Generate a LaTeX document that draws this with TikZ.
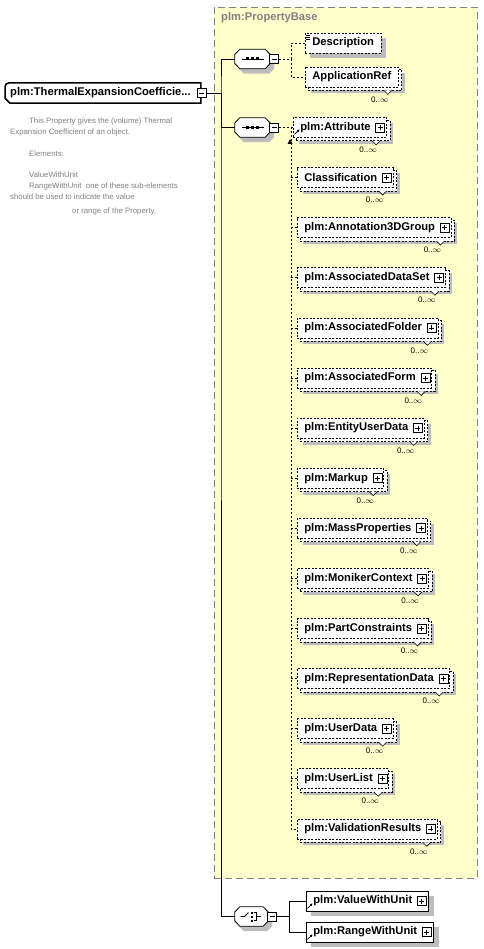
\documentclass[tikz,border=0pt]{standalone}
\usepackage{fontspec}
\setmainfont{Liberation Sans}
\usetikzlibrary{positioning, arrows.meta, calc}

\definecolor{xsyellow}{HTML}{FFFFCC}
\definecolor{xsgrey}{HTML}{808080}
\definecolor{xsshade}{HTML}{BDBDBD}

\pgfdeclarelayer{groupbg}
\pgfdeclarelayer{shade}
\pgfdeclarelayer{stack}
\pgfsetlayers{groupbg,shade,stack,main}

\tikzset{
  % element boxes
  xsbox/.style={
    draw=black, fill=white, line width=0.8pt,
    font=\fontsize{11.2}{13}\selectfont\bfseries,
    minimum height=20pt, inner xsep=7pt, inner ysep=0pt,
    anchor=west,
  },
  % dashed = optional
  xsopt/.style={xsbox, dash pattern=on 2pt off 1.5pt},
  xsstack/.style={draw=black, fill=white, line width=0.8pt, dash pattern=on 2pt off 1.5pt},
  xsshadow/.style={fill=xsshade, draw=none},
  xsroot/.style={
    font=\fontsize{11.2}{13}\selectfont\bfseries,
    minimum height=20pt, inner xsep=5pt, inner ysep=0pt, anchor=west,
  },
  xsrootline/.style={draw=black, fill=white, line width=1.5pt},
  xsplus/.style={
    draw=black, solid, fill=white, line width=0.7pt, minimum size=9pt, inner sep=0pt,
    path picture={\draw[line width=0.7pt]
      ([xshift=2pt]path picture bounding box.west) -- ([xshift=-2pt]path picture bounding box.east)
      ([yshift=-2pt]path picture bounding box.north) -- ([yshift=2pt]path picture bounding box.south);},
  },
  xsminus/.style={
    draw=black, solid, fill=white, line width=0.7pt, minimum size=9pt, inner sep=0pt,
    path picture={\draw[line width=0.7pt]
      ([xshift=2pt]path picture bounding box.west) -- ([xshift=-2pt]path picture bounding box.east);},
  },
  xscomp/.style={minimum width=35pt, minimum height=19pt, inner sep=0pt},
  xscompline/.style={draw=black, fill=white, line width=0.8pt},
  xsocc/.style={font=\fontsize{8}{9}\selectfont, inner sep=0pt},
  xsnotch/.style={draw=black, fill=white, line width=0.6pt},
  xsref/.style={-{Triangle[length=2.5pt, width=2.5pt]}, line width=0.8pt},
  xsline/.style={line width=0.8pt},
  xsdash/.style={line width=0.8pt, dash pattern=on 2pt off 2pt},
  xsgroup/.style={draw=xsgrey, fill=xsyellow, line width=0.8pt, dash pattern=on 7pt off 4pt,
    anchor=north west, inner sep=0pt},
  xsgrouplabel/.style={font=\fontsize{11.2}{13}\selectfont\bfseries, text=xsgrey, inner sep=0pt},
  xsnote/.style={font=\fontsize{7.8}{10.8}\selectfont, text=xsgrey, align=left, inner sep=0pt,
    anchor=north west},
}

% compositor outline: node, x offset, y offset
\newcommand{\xsOcta}[3]{%
  ($(#1.west)+(#2,#3-4.5)$) -- ($(#1.north west)+(#2+5,#3)$)
  -- ($(#1.north east)+(#2-5,#3)$) -- ($(#1.east)+(#2,#3-4.5)$) -- ($(#1.east)+(#2,#3+4.5)$)
  -- ($(#1.south east)+(#2-5,#3)$) -- ($(#1.south west)+(#2+5,#3)$) -- ($(#1.west)+(#2,#3+4.5)$) -- cycle}

\begin{document}
\begin{tikzpicture}[x=1pt, y=-1pt]
  \useasboundingbox (0,0) rectangle (483,949);

  % complex type base
  \begin{pgfonlayer}{groupbg}
    \node[xsgroup, minimum width=263pt, minimum height=871pt] (base) at (214,7) {};
  \end{pgfonlayer}
  \node[xsgrouplabel, below right=5pt and 7pt of base.north west] (baselbl) {plm:PropertyBase};

  % root element
  \node[xsroot] (root) at (5,93) {plm:ThermalExpansionCoefficie...\kern5pt};
  \draw[xsrootline] (root.south east) -- ($(root.south west)+(5,0)$) -- ($(root.south west)+(0,-5)$)
    [rounded corners=4pt] -- (root.north west) [sharp corners] -- (root.north east) -- cycle;
  \node[xsroot] at (root.west) {plm:ThermalExpansionCoefficie...\kern5pt};
  \node[xsminus, right=-4pt of root.east] (root-m) {};

  \node[xsnote] (note) at (10,118) {%
    \hspace*{19pt}This Property gives the (volume) Thermal\\
    Expansion Coefficient of an object.\\[10.8pt]
    \hspace*{19pt}Elements:\\[10.8pt]
    \hspace*{19pt}ValueWithUnit\\
    \hspace*{19pt}RangeWithUnit\ \ one of these sub-elements\\
    should be used to indicate the value\\[3pt]
    \hspace*{62pt}or range of the Property.};

  % compositors
  \node[xscomp] (seqa) at (252.5,59) {};
  \node[xscomp] (seqb) at (252.5,127.5) {};
  \node[xscomp, minimum width=33pt] (chc) at (251.5,916.5) {};

  \coordinate (trunk) at (221,93);
  \draw[xsline] (root-m.east) -- (trunk);
  \draw[xsline] (seqa.west) -| (trunk) |- (chc.west);
  \draw[xsline] (trunk) |- (seqb.west);

  \foreach \s in {seqa, seqb, chc} {
    \begin{pgfonlayer}{shade}
      \fill[xsshadow] \xsOcta{\s}{4}{5};
    \end{pgfonlayer}
    \draw[xscompline] \xsOcta{\s}{0}{0};
    \node[xsminus, right=-1pt of \s.east] (\s-m) {};
  }
  \foreach \s in {seqa, seqb} {
    \draw[xsline] ($(\s.center)+(-11,0)$) -- ($(\s.center)+(11,0)$);
    \foreach \d in {-5,0,5}
      \fill ($(\s.center)+(\d-1.5,-1.5)$) rectangle ++(3,3);
  }

  % choice icon
  \draw[xsline] ($(chc.center)+(-11,0)$) -- ++(4,0) -- ++(4,-4);
  \foreach \d in {-4,0,4}
    \fill ($(chc.center)+(-1,\d-1)$) rectangle ++(2.2,2.2);
  \draw[xsline] ($(chc.center)+(2,-4)$) -- ++(3,0) -- ++(0,8) -- ++(-3,0)
    ($(chc.center)+(5,0)$) -- ++(4,0);

  % first sequence
  \node[xsopt] (desc) at (305,43) {Description};
  \node[xsopt] (appref) at (305,77) {ApplicationRef};
  \draw[line width=0.6pt] ($(desc.north west)+(1,2.5)$) -- ++(4,0)
    ($(desc.north west)+(1,4.5)$) -- ++(4,0) ($(desc.north west)+(1,6.5)$) -- ++(4,0);
  \draw[xsdash] (seqa-m.east) -- +(12,0) |- (desc.west);
  \draw[xsdash] (seqa-m.east) ++(12,0) |- (appref.west);

  % second sequence
  \node[xsopt] (e1) at (293,127.5) {plm:Attribute\kern9pt};
  \foreach \name [count=\i from 2] in {Classification, plm:Annotation3DGroup,
      plm:AssociatedDataSet, plm:AssociatedFolder, plm:AssociatedForm,
      plm:EntityUserData, plm:Markup, plm:MassProperties, plm:MonikerContext,
      plm:PartConstraints, plm:RepresentationData, plm:UserData, plm:UserList,
      plm:ValidationResults} {
    \node[xsopt] (e\i) at (297,{127.5+50.1*(\i-1)}) {\name\kern9pt};
  }
  \foreach \i in {1,...,15}
    \node[xsplus, left=2pt of e\i.east] (e\i-p) {};
  \draw[xsref] ($(e1.south west)+(1.5,-3.5)$) -- ++(5,-5);

  % stacked boxes, shadows and occurrences
  \foreach \n in {appref, e1, e2, e3, e4, e5, e6, e7, e8, e9, e10, e11, e12, e13, e14, e15} {
    \begin{pgfonlayer}{shade}
      \fill[xsshadow] ($(\n.north west)+(6,6)$) rectangle ($(\n.south east)+(6,6)$);
    \end{pgfonlayer}
    \begin{pgfonlayer}{stack}
      \draw[xsstack] ($(\n.north west)+(3,3)$) rectangle ($(\n.south east)+(3,3)$);
    \end{pgfonlayer}
    \draw[xsnotch] ($(\n.south east)+(-15,3)$) -- ++(4,4) -- ++(4,-4);
    \node[xsocc] (\n-o) at ($(\n.south east)+(-19,12)$) {0..$\infty$};
  }

  \coordinate (busb) at ($(seqb-m.east)+(12,0)$);
  \draw[xsdash] (seqb-m.east) -- (busb) |- (e15.west);
  \foreach \i in {1,...,14}
    \draw[xsdash] (busb |- e\i.west) -- (e\i.west);
  \fill (290,139) -- (292.5,144) -- (287.5,144) -- cycle;

  % choice
  \node[xsbox] (val) at (306,901) {plm:ValueWithUnit\kern9pt};
  \node[xsbox] (rng) at (306,932) {plm:RangeWithUnit\kern9pt};
  \foreach \n in {val, rng} {
    \node[xsplus, left=2pt of \n.east] (\n-p) {};
    \draw[xsref] ($(\n.south west)+(1.5,-3)$) -- ++(5,-5);
  }
  \foreach \n in {desc, val, rng} {
    \begin{pgfonlayer}{shade}
      \fill[xsshadow] ($(\n.north west)+(5,5)$) rectangle ($(\n.south east)+(5,5)$);
    \end{pgfonlayer}
  }
  \draw[xsline] (chc-m.east) -- +(12,0) |- (val.west);
  \draw[xsline] (chc-m.east) ++(12,0) |- (rng.west);
\end{tikzpicture}
\end{document}
